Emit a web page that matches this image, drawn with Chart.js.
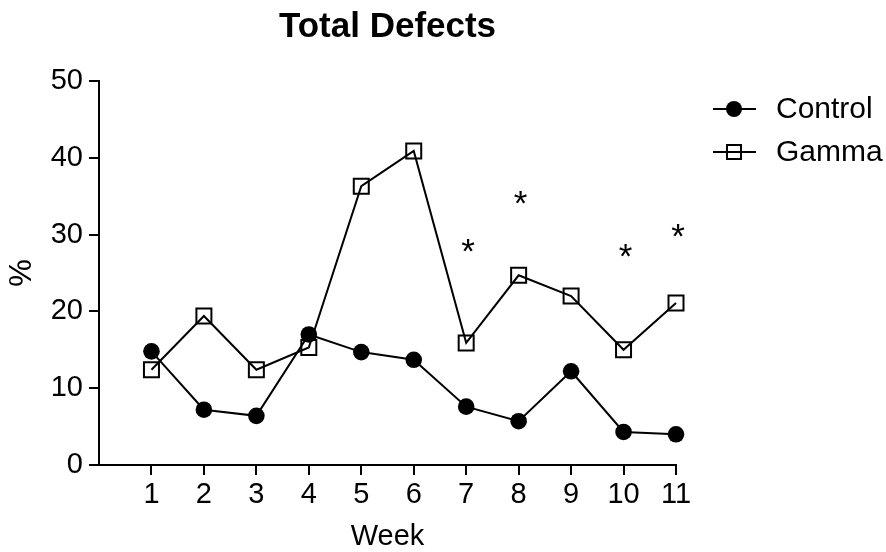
<!DOCTYPE html>
<html>
<head>
<meta charset="utf-8">
<script src="https://cdn.jsdelivr.net/npm/chart.js@4.4.0/dist/chart.umd.min.js"></script>
<style>
  body { margin: 0; background: #fff; }
</style>
</head>
<body>
<canvas id="defectsChart" width="886" height="552"></canvas>
<script>
// Weeks and % defects
const weeks = [1, 2, 3, 4, 5, 6, 7, 8, 9, 10, 11];
const controlValues = [14.8, 7.2, 6.4, 17.0, 14.7, 13.7, 7.6, 5.7, 12.2, 4.3, 4.0];
const gammaValues = [12.4, 19.4, 12.4, 15.3, 36.3, 40.9, 15.9, 24.7, 22.0, 15.0, 21.1];

// Significance markers (week, height in %)
const starWeeks = [7, 8, 10, 11];
const starValues = [28.3, 34.6, 27.6, 30.3];

const yTicks = [0, 10, 20, 30, 40, 50];

const FONT = "'Liberation Sans', Arial, sans-serif";
const TEXT_SIZE = 29;

const toPoints = (vals) => vals.map((v, i) => ({ x: weeks[i], y: v }));

// title centred over the plot area (Chart.js centres over the whole box)
const titlePlugin = {
    id: 'plotTitle',
    afterDraw(chart) {
        const { ctx, chartArea } = chart;
        ctx.save();
        ctx.fillStyle = '#000';
        ctx.font = 'bold 35px ' + FONT;
        ctx.textAlign = 'center';
        ctx.textBaseline = 'alphabetic';
        ctx.fillText('Total Defects', (chartArea.left + chartArea.right) / 2, 37);
        ctx.restore();
    }
};

// draws the asterisks above the weeks
const starPlugin = {
    id: 'stars',
    afterDatasetsDraw(chart) {
        const { ctx, scales } = chart;
        ctx.save();
        ctx.fillStyle = '#000';
        ctx.font = '35px ' + FONT;
        ctx.textAlign = 'center';
        ctx.textBaseline = 'alphabetic';
        starWeeks.forEach((w, i) => {
            const x = scales.x.getPixelForValue(w);
            const y = scales.y.getPixelForValue(starValues[i]);
            ctx.fillText('*', x + 2, y + 35 * 0.44);
        });
        ctx.restore();
    }
};

// legend with a line through the marker, like the original
const legendPlugin = {
    id: 'sideLegend',
    afterDraw(chart) {
        const { ctx } = chart;
        const rows = [
            { label: 'Control', y: 109, square: false },
            { label: 'Gamma', y: 152, square: true }
        ];
        ctx.save();
        rows.forEach(r => {
            ctx.strokeStyle = '#000';
            ctx.lineWidth = 2;
            ctx.beginPath();
            ctx.moveTo(713, r.y);
            ctx.lineTo(756, r.y);
            ctx.stroke();
            if (r.square) {
                ctx.strokeRect(727, r.y - 7, 14, 14);
            } else {
                ctx.fillStyle = '#000';
                ctx.beginPath();
                ctx.arc(734, r.y, 8, 0, Math.PI * 2);
                ctx.fill();
            }
            ctx.fillStyle = '#000';
            ctx.font = '30px ' + FONT;
            ctx.textAlign = 'left';
            ctx.textBaseline = 'middle';
            ctx.fillText(r.label, 776, r.y + 1);
        });
        ctx.restore();
    }
};

const ctx = document.getElementById('defectsChart').getContext('2d');
const myChart = new Chart(ctx, {
    type: 'line',
    data: {
        datasets: [{
            label: 'Control',
            data: toPoints(controlValues),
            borderColor: '#000',
            backgroundColor: '#000',
            borderWidth: 2,
            pointStyle: 'circle',
            pointRadius: 8.3,
            pointBackgroundColor: '#000',
            pointBorderColor: '#000',
            pointBorderWidth: 0,
            tension: 0,
            clip: false
        }, {
            label: 'Gamma',
            data: toPoints(gammaValues),
            borderColor: '#000',
            backgroundColor: 'rgba(0,0,0,0)',
            borderWidth: 2,
            pointStyle: 'rect',
            pointRadius: 10.6,
            pointBackgroundColor: 'rgba(0,0,0,0)',
            pointBorderColor: '#000',
            pointBorderWidth: 2,
            tension: 0,
            clip: false
        }]
    },
    options: {
        responsive: false,
        animation: false,
        layout: {
            padding: { left: 0, right: 210, top: 81, bottom: 0 }
        },
        plugins: {
            legend: { display: false },
            tooltip: { enabled: false },
            title: { display: false }
        },
        scales: {
            x: {
                type: 'linear',
                min: 0,
                max: 11,
                afterBuildTicks: (scale) => {
                    scale.ticks = weeks.map(v => ({ value: v }));
                },
                afterFit: (scale) => { scale.height = 87; },
                ticks: {
                    color: '#000',
                    font: { family: FONT, size: TEXT_SIZE },
                    padding: 3,
                    maxRotation: 0,
                    autoSkip: false
                },
                grid: {
                    display: true,
                    drawOnChartArea: false,
                    drawTicks: true,
                    tickLength: 10,
                    color: '#000',
                    lineWidth: 2
                },
                border: { display: true, color: '#000', width: 2 },
                title: {
                    display: true,
                    text: 'Week',
                    color: '#000',
                    font: { family: FONT, size: TEXT_SIZE, lineHeight: 1 },
                    padding: { top: 0, bottom: 1 }
                }
            },
            y: {
                min: 0,
                max: 50,
                afterBuildTicks: (scale) => {
                    scale.ticks = yTicks.map(v => ({ value: v }));
                },
                afterFit: (scale) => { scale.width = 99; },
                ticks: {
                    color: '#000',
                    font: { family: FONT, size: TEXT_SIZE },
                    padding: 6
                },
                grid: {
                    display: true,
                    drawOnChartArea: false,
                    drawTicks: true,
                    tickLength: 10,
                    color: '#000',
                    lineWidth: 2
                },
                border: { display: true, color: '#000', width: 2 },
                title: {
                    display: true,
                    text: '%',
                    color: '#000',
                    font: { family: FONT, size: 31, lineHeight: 1 },
                    padding: { top: 7, bottom: 0 }
                }
            }
        }
    },
    plugins: [titlePlugin, starPlugin, legendPlugin]
});
</script>
</body>
</html>
